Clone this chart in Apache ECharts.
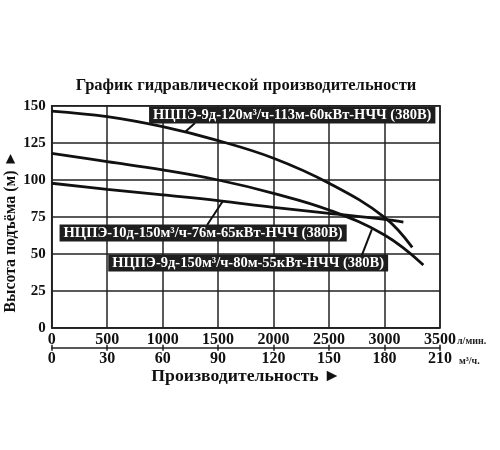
<!DOCTYPE html>
<html><head><meta charset="utf-8">
<script src="https://cdn.jsdelivr.net/npm/echarts@6/dist/echarts.min.js"></script>
<style>html,body{margin:0;padding:0;background:#fff}#c{width:500px;height:450px}</style>
</head><body><div id="c"></div>
<script>
const titleText = 'График гидравлической производительности';
const yName = 'Высота подъёма (м) ►';
const xName = 'Производительность ►';
const unitLmin = 'л/мин.';
const unitM3h = 'м³/ч.';
const seriesNames = [
  'НЦПЭ-9д-120м³/ч-113м-60кВт-НЧЧ (380В)',
  'НЦПЭ-9д-150м³/ч-80м-55кВт-НЧЧ (380В)',
  'НЦПЭ-10д-150м³/ч-76м-65кВт-НЧЧ (380В)'
];
// [flow l/min, head m]
const curveTop = [[0,146.4],[500,142.6],[1000,135.8],[1500,126.4],[2000,114.5],[2500,97.6],[3000,74.6],[3250,54.3]];
const curveMid = [[0,117.8],[500,112.2],[1000,106.6],[1500,99.8],[2000,90.8],[2500,79.5],[3000,62.6],[3350,42.4]];
const curveLow = [[0,97.6],[500,93.5],[1000,89.7],[1500,85.8],[2000,81.3],[2500,77.3],[3000,73.2],[3170,71.4]];
// label anchors (box centre) and leader endpoints in data units
const labelCentres = [[2168,143.7],[1771,43.7],[1365,64.0]];
const leaderLines = [
  [[1202,132.2],[1292,138.3]],
  [[2886,66.5],[2796,49.1]],
  [[1542,85.4],[1401,69.4]]
];
const serif = '"Liberation Serif","DejaVu Serif",serif';

const chart = echarts.init(document.getElementById('c'));
const plain = v => String(v);
const grid = {left:51.7, right:60, top:105.7, bottom:122.3, show:true, borderColor:'#222', borderWidth:1.5, backgroundColor:'transparent'};
const option = {
  animation:false,
  grid: grid,
  xAxis: [
    {type:'value', min:0, max:3500, interval:500, position:'bottom',
     axisLine:{show:true,lineStyle:{color:'#222',width:1.5}}, axisTick:{show:false},
     axisLabel:{color:'#111', fontFamily:serif, fontWeight:'bold', fontSize:16, margin:4, formatter:plain},
     splitLine:{show:true,lineStyle:{color:'#222',width:1.5}}},
    {type:'value', min:0, max:210, interval:30, position:'bottom', offset:20,
     axisLine:{show:true,lineStyle:{color:'#222',width:1.5}},
     axisTick:{show:true,length:3,lineStyle:{color:'#222',width:1.5}},
     axisLabel:{color:'#111', fontFamily:serif, fontWeight:'bold', fontSize:16, margin:3, formatter:plain},
     splitLine:{show:false}},
    {type:'value', min:0, max:210, interval:30, position:'bottom', offset:20,
     axisLine:{show:false},
     axisTick:{show:true,inside:true,length:3,lineStyle:{color:'#222',width:1.5}},
     axisLabel:{show:false}, splitLine:{show:false}}
  ],
  yAxis: {type:'value', min:0, max:150, interval:25,
    axisLine:{show:true,lineStyle:{color:'#222',width:1.5}}, axisTick:{show:false},
    axisLabel:{color:'#111', fontFamily:serif, fontWeight:'bold', fontSize:15, margin:6, formatter:plain},
    splitLine:{show:true,lineStyle:{color:'#222',width:1.5}}},
  series: [curveTop, curveMid, curveLow].map((d,i)=>({
    name: seriesNames[i], type:'line', data:d, smooth:0.4, showSymbol:false,
    lineStyle:{color:'#111', width:2.8}, z:5
  }))
};
chart.setOption(option);

const g = [];
g.push({type:'text', x:246, y:86, style:{text:titleText, font:'bold 16.5px '+serif, fill:'#111', textAlign:'center', textVerticalAlign:'middle'}});
g.push({type:'text', x:11, y:231.7, rotation:Math.PI/2, style:{text:yName, font:'bold 15.8px '+serif, fill:'#111', textAlign:'center', textVerticalAlign:'middle'}});
g.push({type:'text', x:246, y:376, style:{text:xName, font:'bold 17.7px '+serif, fill:'#111', textAlign:'center', textVerticalAlign:'middle'}});
g.push({type:'text', x:457, y:341, style:{text:unitLmin, font:'bold 10px '+serif, fill:'#222', textAlign:'left', textVerticalAlign:'middle'}});
g.push({type:'text', x:459, y:361, style:{text:unitM3h, font:'bold 10px '+serif, fill:'#222', textAlign:'left', textVerticalAlign:'middle'}});
leaderLines.forEach(l=>{
  const a = chart.convertToPixel({xAxisIndex:0,yAxisIndex:0}, l[0]);
  const b = chart.convertToPixel({xAxisIndex:0,yAxisIndex:0}, l[1]);
  g.push({type:'line', shape:{x1:a[0],y1:a[1],x2:b[0],y2:b[1]}, style:{stroke:'#111', lineWidth:2}, z:10});
});
labelCentres.forEach((c,i)=>{
  const p = chart.convertToPixel({xAxisIndex:0,yAxisIndex:0}, c);
  g.push({type:'text', x:p[0], y:p[1], z:20, style:{text:seriesNames[i], font:'bold 14.5px '+serif, fill:'#fff',
    textAlign:'center', textVerticalAlign:'middle', backgroundColor:'#1e1e1e', padding:[1,4,1,4]}});
});
chart.setOption({graphic:g});
</script></body></html>
